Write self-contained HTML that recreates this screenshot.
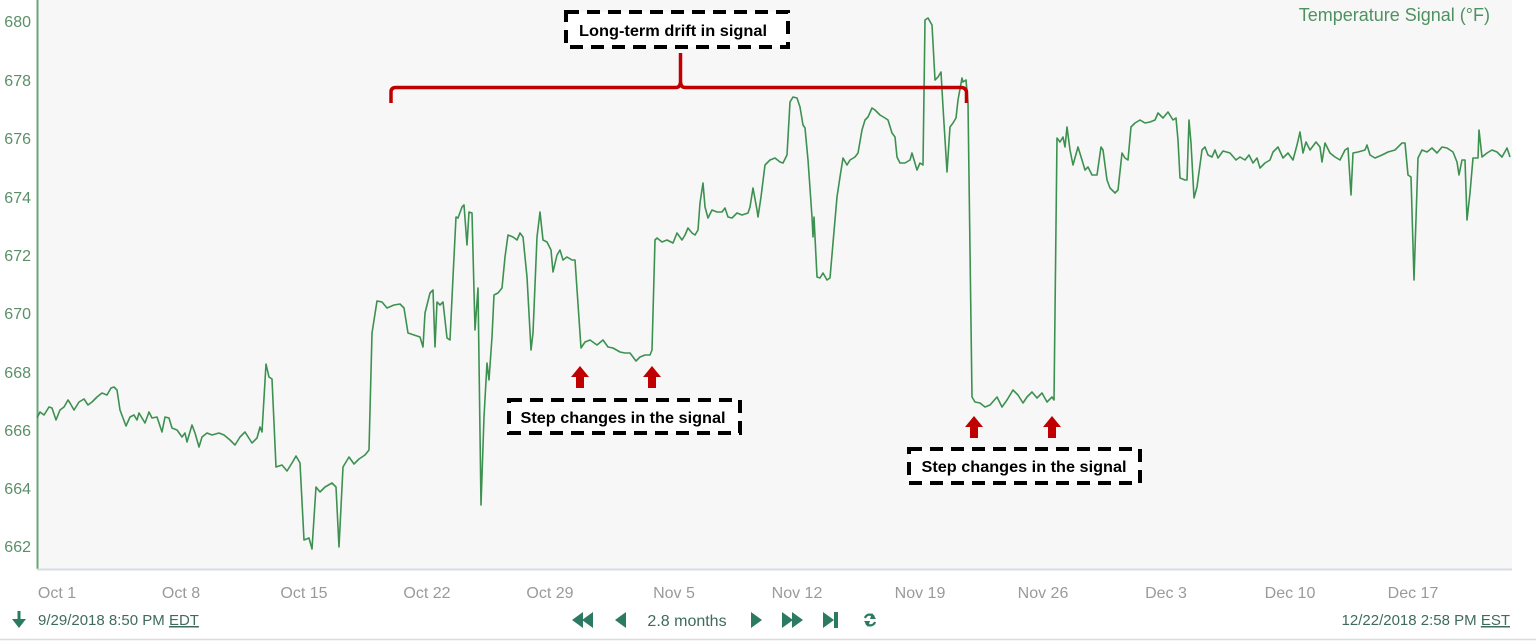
<!DOCTYPE html>
<html>
<head>
<meta charset="utf-8">
<style>
  html,body{margin:0;padding:0;background:#fff;}
  body{width:1536px;height:641px;overflow:hidden;}
  svg{display:block;}
  .yl{font-family:"Liberation Sans",sans-serif;font-size:16px;fill:#5a8f68;}
  .xl{font-family:"Liberation Sans",sans-serif;font-size:16px;fill:#9a9a9a;}
  .bt{font-family:"Liberation Sans",sans-serif;font-size:15px;fill:#3e6b5c;}
  .ann{font-family:"Liberation Sans",sans-serif;font-size:16px;font-weight:bold;fill:#000;}
</style>
</head>
<body>
<svg width="1536" height="641" viewBox="0 0 1536 641" xmlns="http://www.w3.org/2000/svg">
  <!-- plot background -->
  <rect x="37" y="0" width="1475" height="569" fill="#f7f7f7"/>
  <!-- axes -->
  <line x1="37.5" y1="0" x2="37.5" y2="569" stroke="#6aa57a" stroke-width="2"/>
  <line x1="37" y1="569.5" x2="1512" y2="569.5" stroke="#d6dde6" stroke-width="2"/>
  <!-- bottom border -->
  <line x1="0" y1="639.5" x2="1536" y2="639.5" stroke="#dcdcdc" stroke-width="1.5"/>

  <!-- y labels -->
  <text class="yl" x="31" y="27" text-anchor="end">680</text>
  <text class="yl" x="31" y="86" text-anchor="end">678</text>
  <text class="yl" x="31" y="144" text-anchor="end">676</text>
  <text class="yl" x="31" y="203" text-anchor="end">674</text>
  <text class="yl" x="31" y="261" text-anchor="end">672</text>
  <text class="yl" x="31" y="319" text-anchor="end">670</text>
  <text class="yl" x="31" y="378" text-anchor="end">668</text>
  <text class="yl" x="31" y="436" text-anchor="end">666</text>
  <text class="yl" x="31" y="494" text-anchor="end">664</text>
  <text class="yl" x="31" y="552" text-anchor="end">662</text>

  <!-- x labels -->
  <text class="xl" x="57" y="598" text-anchor="middle">Oct 1</text>
  <text class="xl" x="181" y="598" text-anchor="middle">Oct 8</text>
  <text class="xl" x="304" y="598" text-anchor="middle">Oct 15</text>
  <text class="xl" x="427" y="598" text-anchor="middle">Oct 22</text>
  <text class="xl" x="550" y="598" text-anchor="middle">Oct 29</text>
  <text class="xl" x="674" y="598" text-anchor="middle">Nov 5</text>
  <text class="xl" x="797" y="598" text-anchor="middle">Nov 12</text>
  <text class="xl" x="920" y="598" text-anchor="middle">Nov 19</text>
  <text class="xl" x="1043" y="598" text-anchor="middle">Nov 26</text>
  <text class="xl" x="1166" y="598" text-anchor="middle">Dec 3</text>
  <text class="xl" x="1290" y="598" text-anchor="middle">Dec 10</text>
  <text class="xl" x="1413" y="598" text-anchor="middle">Dec 17</text>

  <!-- legend -->
  <text x="1490" y="21" text-anchor="end" font-family="Liberation Sans, sans-serif" font-size="18" fill="#4f9160">Temperature Signal (°F)</text>

  <!-- series -->
  <polyline fill="none" stroke="#3d9150" stroke-width="1.6" stroke-linejoin="round" points="
37,418 40,412 44,415 49,407 52,408 56,420 60,410 64,407 68,400 70,403 74,410 79,402 84,399 88,405 92,402 97,397 102,393 107,395 111,388 114,387 117,390 120,410 126,426 130,417 134,415 137,420 139,413 145,423 149,412 152,418 157,417 162,432 165,417 169,418 172,428 177,430 182,437 185,433 187,442 192,425 195,433 199,447 202,437 207,433 212,435 219,433 224,435 230,440 235,445 240,437 245,432 252,443 257,438 260,427 262,432 266,364 269,377 272,379 276,467 282,465 287,471 292,463 296,456 300,463 304,540 309,538 312,549 316,487 320,492 325,487 332,483 336,487 339,547 343,467 349,457 354,464 359,459 365,455 369,450 372,333 377,301 382,302 387,308 394,305 400,304 404,308 408,333 414,335
420,337 423,347 425,313 430,293 433,290 435,347 437,302 440,305 443,302 447,338 450,340 453,277 456,217 458,218 462,207 464,205 467,245 469,212 472,213 475,330 478,288 481,505 484,417 487,363 489,380 492,337 494,295 498,293 502,288 505,257 508,235 513,237 517,240 520,233 523,237 527,277 531,350 533,333 537,237 540,212 543,240 547,242 551,250 553,272 557,255 560,250 563,260 567,257 572,260 575,260 581,348 585,342 590,340 597,345 603,340 608,347 613,348 620,352 625,353 630,353 636,361 640,357 645,355 650,355 652,350 655,240 657,238 662,242 667,240 673,243 677,233 682,240 685,235 688,228 692,233 695,235 698,230 700,203 703,183 705,207 708,218 712,210 717,212 722,212 725,208 728,217 732,218 737,213 742,215 748,213 750,207 753,188 757,210 758,217 761,197 765,165 770,160 775,158 780,162
783,163 787,155 790,102 793,97 797,98 800,107 803,125 805,128 808,160 812,217 813,237 814,217 817,277 820,278 823,273 827,280 830,278 833,243 837,197 840,177 843,158 847,165 850,160 855,157 858,153 862,130 865,120 868,117 872,108 875,110 880,115 885,118 888,120 892,133 895,137 897,157 900,163 905,163 910,160 912,153 917,170 920,163 923,165 925,20 928,18 932,25 933,43 935,80 938,77 941,72 943,107 947,172 950,127 953,123 956,118 958,100 962,78 963,82 966,80 968,103 972,397 975,402 980,403 985,407 990,405 997,397 1002,407 1007,400 1013,390 1018,395 1023,403 1027,397 1032,392 1037,398 1042,393 1047,402 1052,397 1054,400 1057,138 1060,142 1063,137 1065,147 1067,127 1070,150 1073,165 1078,147 1082,160 1085,170 1088,167 1092,175 1097,175 1101,147 1103,150 1107,180 1110,188 1115,193 1118,190 1122,153 1125,158 1128,160 1131,127 1135,123 1140,120 1145,123 1150,122 1155,120 1158,113 1163,118 1168,112 1173,120 1176,118 1178,140 1180,178
1185,180 1187,180 1189,120 1191,143 1194,198 1197,187 1202,150 1205,147 1208,155 1212,157 1215,150 1218,158 1223,151 1230,153 1236,160 1240,157 1245,160 1249,155 1253,163 1257,158 1260,168 1265,163 1270,160 1273,152 1278,147 1283,158 1288,153 1293,160 1297,145 1300,132 1303,153 1306,142 1310,150 1316,142 1320,147 1322,162 1325,143 1330,153 1335,157 1340,160 1345,150 1348,148 1351,195 1353,153 1358,152 1365,150 1367,145 1370,155 1375,158 1382,155 1388,152 1395,150 1402,143 1405,143 1408,175 1411,177 1414,280 1418,158 1422,150 1427,152 1432,148 1437,153 1442,147 1447,148 1453,152 1457,162 1459,175 1462,160 1465,160 1467,220 1470,193 1473,158 1478,158 1479,130 1482,157 1487,153 1492,150 1497,152 1502,157 1507,148 1510,157"/>

  <!-- red bracket -->
  <path d="M391,103 L391,92 Q391,87.5 396,87.5 L676,87.5 Q680,87.5 680.5,82 L680.5,53 M680.5,82 Q681,87.5 685,87.5 L961,87.5 Q966.5,87.5 966.5,93 L966.5,103" fill="none" stroke="#c00000" stroke-width="3.5"/>

  <!-- annotation box: long-term drift -->
  <rect x="566" y="12" width="222" height="35" fill="#ffffff" stroke="#000" stroke-width="4" stroke-dasharray="13 8"/>
  <text class="ann" x="673" y="36" text-anchor="middle" textLength="188" lengthAdjust="spacingAndGlyphs">Long-term drift in signal</text>

  <!-- step box 1 -->
  <rect x="509" y="400" width="231" height="33" fill="#ffffff" stroke="#000" stroke-width="4" stroke-dasharray="13 8"/>
  <text class="ann" x="623" y="423" text-anchor="middle" textLength="205" lengthAdjust="spacingAndGlyphs">Step changes in the signal</text>

  <!-- step box 2 -->
  <rect x="909" y="449" width="231" height="34" fill="#ffffff" stroke="#000" stroke-width="4" stroke-dasharray="13 8"/>
  <text class="ann" x="1024" y="472" text-anchor="middle" textLength="205" lengthAdjust="spacingAndGlyphs">Step changes in the signal</text>

  <!-- red arrows -->
  <g fill="#c00000">
    <path d="M580,366 L589,377 L584,377 L584,388 L576,388 L576,377 L571,377 Z"/>
    <path d="M652,366 L661,377 L656,377 L656,388 L648,388 L648,377 L643,377 Z"/>
    <path d="M974,416 L983,427 L978,427 L978,438 L970,438 L970,427 L965,427 Z"/>
    <path d="M1052,416 L1061,427 L1056,427 L1056,438 L1048,438 L1048,427 L1043,427 Z"/>
  </g>

  <!-- bottom left -->
  <g fill="#2b7a62">
    <rect x="17.5" y="611" width="3" height="10"/>
    <path d="M12,619 L26,619 L19,628 Z"/>
  </g>
  <text class="bt" x="38" y="625">9/29/2018 8:50 PM <tspan text-decoration="underline">EDT</tspan></text>

  <!-- bottom controls -->
  <g fill="#2b7a62">
    <path d="M572,620 L583,612 L583,628 Z"/>
    <path d="M582,620 L593,612 L593,628 Z"/>
    <path d="M615,620 L626,612 L626,628 Z"/>
    <path d="M762,620 L751,612 L751,628 Z"/>
    <path d="M793,620 L782,612 L782,628 Z"/>
    <path d="M803,620 L792,612 L792,628 Z"/>
    <path d="M834,620 L823,612 L823,628 Z"/>
    <rect x="834" y="612" width="4" height="16"/>
  </g>
  <text x="687" y="626" text-anchor="middle" font-family="Liberation Sans, sans-serif" font-size="16" fill="#3e6b5c">2.8 months</text>
  <g fill="none" stroke="#2b7a62" stroke-width="2.2">
    <path d="M865,618 A5,5 0 0 1 874,617"/>
    <path d="M875,622 A5,5 0 0 1 866,623"/>
  </g>
  <g fill="#2b7a62">
    <path d="M872,613 L876,619 L870,619 Z"/>
    <path d="M868,627 L864,621 L870,621 Z"/>
  </g>

  <!-- bottom right -->
  <text class="bt" x="1510" y="625" text-anchor="end">12/22/2018 2:58 PM <tspan text-decoration="underline">EST</tspan></text>
</svg>
</body>
</html>
